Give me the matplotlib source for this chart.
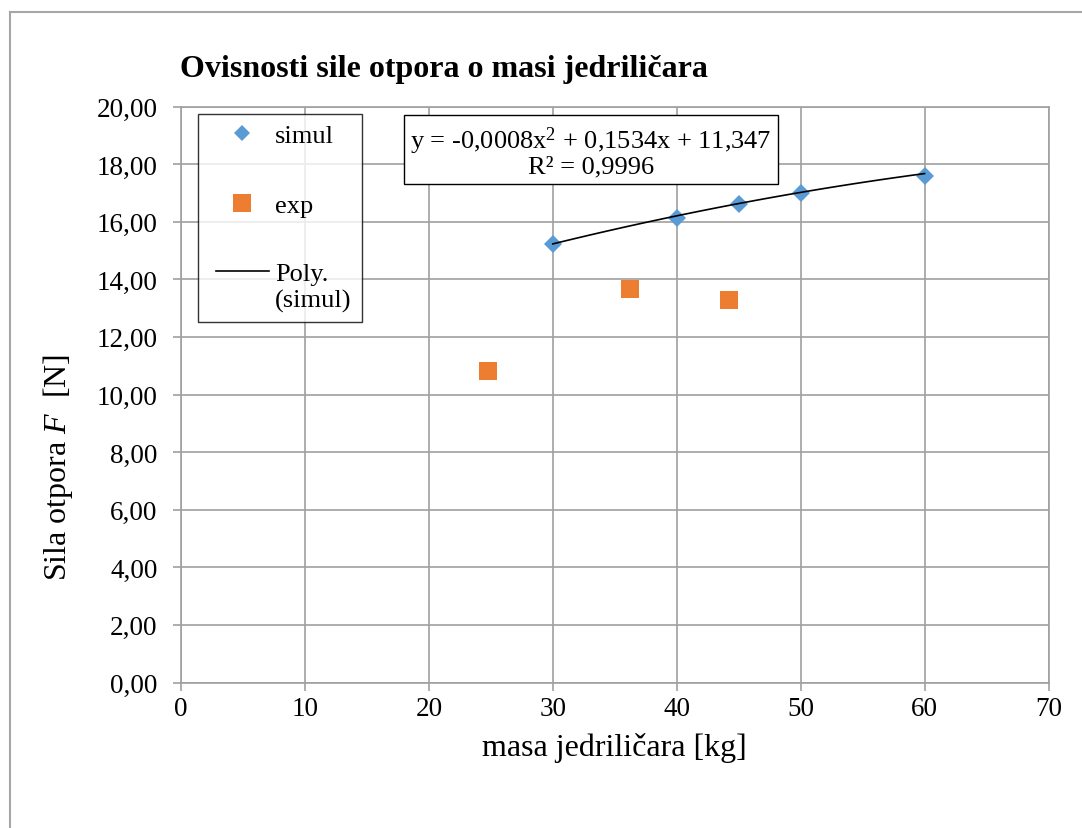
import matplotlib
matplotlib.use('Agg')
import matplotlib.pyplot as plt
from matplotlib.lines import Line2D
from matplotlib.legend_handler import HandlerLine2D
import numpy as np

plt.rcParams['font.family'] = ['Liberation Serif', 'DejaVu Serif']
plt.rcParams['mathtext.fontset'] = 'custom'
plt.rcParams['mathtext.rm'] = 'Liberation Serif'
plt.rcParams['mathtext.it'] = 'Liberation Serif:italic'

# data
simul_x = [30, 40, 45, 50, 60]
simul_y = [15.21, 16.12, 16.6, 16.98, 17.58]
exp_x = [24.8, 36.2, 44.2]
exp_y = [10.8, 13.66, 13.29]
poly_coef = [-0.0008, 0.1534, 11.347]
x_ticks = [0, 10, 20, 30, 40, 50, 60, 70]
y_ticks = [0, 2, 4, 6, 8, 10, 12, 14, 16, 18, 20]

W, H = 1082, 829
fig = plt.figure(figsize=(W / 100, H / 100), dpi=100, facecolor='white')
ax = fig.add_axes([181 / W, 1 - 683.5 / H, 867.5 / W, 576 / H])

# outer chart border, only left and top edges show
fig.add_artist(Line2D([10 / W, 10 / W], [0, 1 - 13 / H], color='#a6a6a6', lw=1.5))
fig.add_artist(Line2D([10 / W, 1], [1 - 13 / H, 1 - 13 / H], color='#a6a6a6', lw=1.5))

ax.set_xlim(0, 70)
ax.set_ylim(0, 20)
ax.set_xticks(x_ticks)
ax.set_yticks(y_ticks)
ax.set_yticklabels([f"{v:.2f}".replace('.', ',') for v in y_ticks])
ax.grid(True, color='#a0a0a0', lw=1.2)
ax.set_axisbelow(True)
for s in ax.spines.values():
    s.set_color('#a0a0a0')
    s.set_linewidth(1.2)
ax.tick_params(axis='both', colors='#a0a0a0', labelcolor='black', labelsize=19.5,
               length=6, width=1.2)
ax.tick_params(axis='y', pad=11)
ax.tick_params(axis='x', pad=4)

ax.plot(simul_x, simul_y, 'D', color='#5B9BD5', markersize=9.4, markeredgewidth=0,
        label='simul', zorder=4)
ax.plot(exp_x, exp_y, 's', color='#ED7D31', markersize=13.5, markeredgewidth=0,
        label='exp', zorder=4)
xf = np.linspace(min(simul_x), max(simul_x), 100)
ax.plot(xf, np.polyval(poly_coef, xf), color='black', lw=1.2, label='Poly.\n(simul)', zorder=5)

SHIFT = 0.3  # extra left padding of legend handles, in font sizes


class FirstLineHandler(HandlerLine2D):
    # push handles a bit right, and put the trendline next to the first label line
    def create_artists(self, legend, orig_handle, xdescent, ydescent, width, height,
                       fontsize, trans):
        arts = super().create_artists(legend, orig_handle, xdescent, ydescent, width,
                                      height, fontsize, trans)
        for a in arts:
            a.set_xdata(np.asarray(a.get_xdata()) + SHIFT * fontsize)
            if '\n' in orig_handle.get_label():
                a.set_ydata(np.asarray(a.get_ydata()) + 0.6 * fontsize)
        return arts


handles, labels = ax.get_legend_handles_labels()
leg = ax.legend(handles, labels, loc='upper left', bbox_to_anchor=(0.0196, 0.987),
                borderaxespad=0, fontsize=19, frameon=True, fancybox=False,
                edgecolor='black', labelspacing=1.75, handlelength=2.0,
                handletextpad=0.25 + SHIFT, borderpad=0.38, markerscale=0.92,
                handler_map={Line2D: FirstLineHandler()})
leg.get_frame().set_linewidth(1.0)

ax.text(0.4726, 0.9227, "y = -0,0008x$^{2}$ + 0,1534x + 11,347\nR² = 0,9996",
        transform=ax.transAxes, ha='center', va='center', fontsize=19, linespacing=1.0,
        bbox=dict(boxstyle='square,pad=0.22', facecolor='white', edgecolor='black', lw=1.0),
        zorder=6)

fig.text(180 / W, 1 - 70 / H, "Ovisnosti sile otpora o masi jedriličara", fontsize=23,
         fontweight='bold', ha='left', va='center')

ax.set_xlabel("masa jedriličara [kg]", fontsize=23, va='center')
ax.xaxis.set_label_coords(0.5, (683.5 - 748) / 576)
ax.set_ylabel("Sila otpora $\\mathit{F}$  [N]", fontsize=23, va='center')
ax.yaxis.set_label_coords((58 - 181) / 867.5, (683.5 - 467) / 576)

fig.savefig('out.png', dpi=100, facecolor='white')
